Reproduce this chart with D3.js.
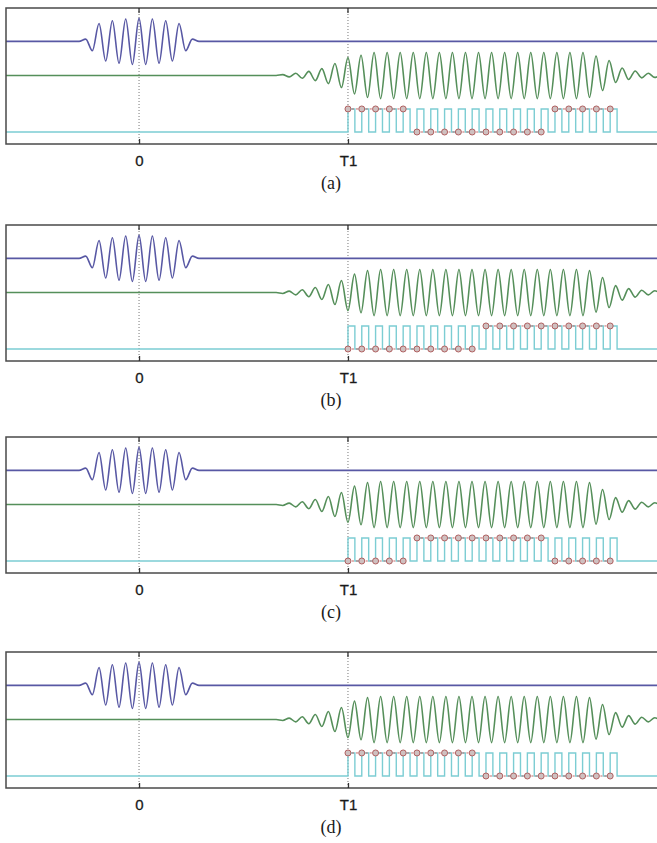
<!DOCTYPE html>
<html>
<head>
<meta charset="utf-8">
<script src="https://cdnjs.cloudflare.com/ajax/libs/d3/7.8.5/d3.min.js"></script>
<style>
  body { margin: 0; background: #fff; }
</style>
</head>
<body>
<script>
const width = 657;
const height = 843;

// captions and transmitted bit patterns, one per panel
const panelLabels = ["(a)", "(b)", "(c)", "(d)"];
const panelBits = [
    [1,1,1,1,1, 0,0,0,0,0, 0,0,0,0,0, 1,1,1,1,1],
    [0,0,0,0,0, 0,0,0,0,0, 1,1,1,1,1, 1,1,1,1,1],
    [0,0,0,0,0, 1,1,1,1,1, 1,1,1,1,1, 0,0,0,0,0],
    [1,1,1,1,1, 1,1,1,1,1, 0,0,0,0,0, 0,0,0,0,0]
];
// carrier polarity at T1 per panel
const greenSign = [1, -1, -1, -1];

// x axis ticks (time in symbol periods)
const tickValues = [0, 15.14];
const tickLabels = ["0", "T1"];

// blue pulse: peak magnitudes per half cycle, h = -10 .. 10 around t = 0
const blueEnv = [0, 0, 0.1, 0.4, 0.78, 0.85, 0.9, 0.95, 0.97, 1, 1,
                 1, 0.97, 0.95, 0.9, 0.85, 0.78, 0.4, 0.1, 0, 0];
const blueHalf = 0.483;

// green carrier: peak magnitudes per half cycle, h = -11 .. 48 around T1
const greenEnv = [0, 0.04, 0.06, 0.1, 0.12, 0.18, 0.22, 0.3, 0.35, 0.52, 0.52,
                  0.78, 0.8, 0.88, 0.95,
                  1, 1, 1, 1, 1, 1, 1, 1, 1, 1,
                  1, 1, 1, 1, 1, 1, 1, 1, 1, 1,
                  1, 1, 1, 1, 1, 1, 1, 1, 1, 1,
                  1, 1, 1, 0.95, 0.85, 0.65, 0.65, 0.3, 0.33, 0.17,
                  0.2, 0.1, 0.1, 0.08, 0.06];
const greenHalf = 0.473;
const greenStart = -11;

const panelTops = [8, 225, 437, 652];
const panelH = 136;
const T1 = tickValues[1];

const x = d3.scaleLinear().domain([-9.64, 37.75]).range([6, 660]);
const xMin = x.domain()[0], xMax = x.domain()[1];

const svg = d3.select("body")
    .append("svg")
    .attr("width", width)
    .attr("height", height);

svg.append("defs").selectAll("clipPath")
    .data(panelTops)
    .enter()
    .append("clipPath")
    .attr("id", (d, i) => "clip" + i)
    .append("rect")
    .attr("x", x(xMin))
    .attr("y", d => d)
    .attr("width", x(xMax) - x(xMin))
    .attr("height", panelH);

panelTops.forEach(function (top, p) {
    const y = d3.scaleLinear().domain([0, 5.9]).range([top + panelH, top]);
    const g = svg.append("g");
    const plot = g.append("g").attr("clip-path", "url(#clip" + p + ")");

    // dotted grid lines at 0 and T1
    plot.selectAll("line.grid")
        .data(tickValues)
        .enter()
        .append("line")
        .attr("x1", d => x(d)).attr("x2", d => x(d))
        .attr("y1", top).attr("y2", top + panelH)
        .attr("stroke", "#777")
        .attr("stroke-width", 1)
        .attr("stroke-dasharray", "1,2");

    const wave = d3.line()
        .x(d => x(d[0]))
        .y(d => y(d[1]))
        .curve(d3.curveMonotoneX);

    // blue pulse around 0
    const blueBase = 4.45;
    const bluePts = [[xMin, blueBase]];
    blueEnv.forEach(function (a, k) {
        const h = k - 10;
        const s = (h % 2 === 0) ? 1 : -1;
        bluePts.push([h * blueHalf, blueBase + s * a]);
    });
    bluePts.push([xMax, blueBase]);
    plot.append("path")
        .attr("d", wave(bluePts))
        .attr("fill", "none")
        .attr("stroke", "#5858a4")
        .attr("stroke-width", 1.6);

    // green carrier starting near T1
    const greenBase = 2.97;
    const greenPts = [[xMin, greenBase]];
    greenEnv.forEach(function (a, k) {
        const h = k + greenStart;
        const s = (Math.abs(h) % 2 === 0) ? 1 : -1;
        greenPts.push([T1 + h * greenHalf, greenBase + greenSign[p] * s * a]);
    });
    plot.append("path")
        .attr("d", wave(greenPts))
        .attr("fill", "none")
        .attr("stroke", "#558f5a")
        .attr("stroke-width", 1.6);

    // cyan clock square wave
    const low = 0.52, high = 1.52;
    const bits = panelBits[p];
    const sq = [[xMin, low]];
    bits.forEach(function (b, i) {
        const s = T1 + i;
        sq.push([s, low], [s, high], [s + 0.5, high], [s + 0.5, low]);
    });
    sq.push([xMax, low]);
    plot.append("path")
        .attr("d", d3.line().x(d => x(d[0])).y(d => y(d[1]))(sq))
        .attr("fill", "none")
        .attr("stroke", "#7ccdd3")
        .attr("stroke-width", 1.4);

    // bit markers joined by a dotted line within runs
    const marks = bits.map((b, i) => [T1 + i, b ? high : low]);
    const runs = [];
    for (let i = 1; i < marks.length; i++) {
        if (bits[i] === bits[i - 1]) runs.push([marks[i - 1], marks[i]]);
    }
    plot.selectAll("line.run")
        .data(runs)
        .enter()
        .append("line")
        .attr("x1", d => x(d[0][0])).attr("y1", d => y(d[0][1]))
        .attr("x2", d => x(d[1][0])).attr("y2", d => y(d[1][1]))
        .attr("stroke", "#c46a6a")
        .attr("stroke-width", 1)
        .attr("stroke-dasharray", "2,2");
    plot.selectAll("circle")
        .data(marks)
        .enter()
        .append("circle")
        .attr("cx", d => x(d[0]))
        .attr("cy", d => y(d[1]))
        .attr("r", 3)
        .attr("fill", "#cfc0c0")
        .attr("stroke", "#b06060")
        .attr("stroke-width", 1);

    // frame
    g.append("rect")
        .attr("x", x(xMin))
        .attr("y", top)
        .attr("width", x(xMax) - x(xMin) + 10)
        .attr("height", panelH)
        .attr("fill", "none")
        .attr("stroke", "#4a4a4a")
        .attr("stroke-width", 1.5);

    // axis ticks and labels
    const axis = d3.axisBottom(x)
        .tickValues(tickValues)
        .tickFormat((d, i) => tickLabels[i])
        .tickSizeInner(-5)
        .tickSizeOuter(0)
        .tickPadding(11);
    const ax = g.append("g")
        .attr("transform", "translate(0," + (top + panelH) + ")")
        .call(axis);
    ax.select(".domain").remove();
    ax.selectAll(".tick line").attr("stroke", "#333").attr("stroke-width", 1.3);
    ax.selectAll(".tick text")
        .attr("font-family", "Liberation Sans, Arial, sans-serif")
        .attr("font-size", 15)
        .attr("fill", "#1a1a1a")
        .attr("stroke", "#1a1a1a")
        .attr("stroke-width", 0.3);

    g.selectAll("line.toptick")
        .data(tickValues)
        .enter()
        .append("line")
        .attr("x1", d => x(d)).attr("x2", d => x(d))
        .attr("y1", top).attr("y2", top + 5)
        .attr("stroke", "#333")
        .attr("stroke-width", 1.3);

    g.append("text")
        .attr("x", 331)
        .attr("y", top + panelH + 45)
        .attr("text-anchor", "middle")
        .attr("font-family", "Liberation Serif, Times New Roman, serif")
        .attr("font-size", 18)
        .attr("fill", "#1a1a1a")
        .text(panelLabels[p]);
});
</script>
</body>
</html>
